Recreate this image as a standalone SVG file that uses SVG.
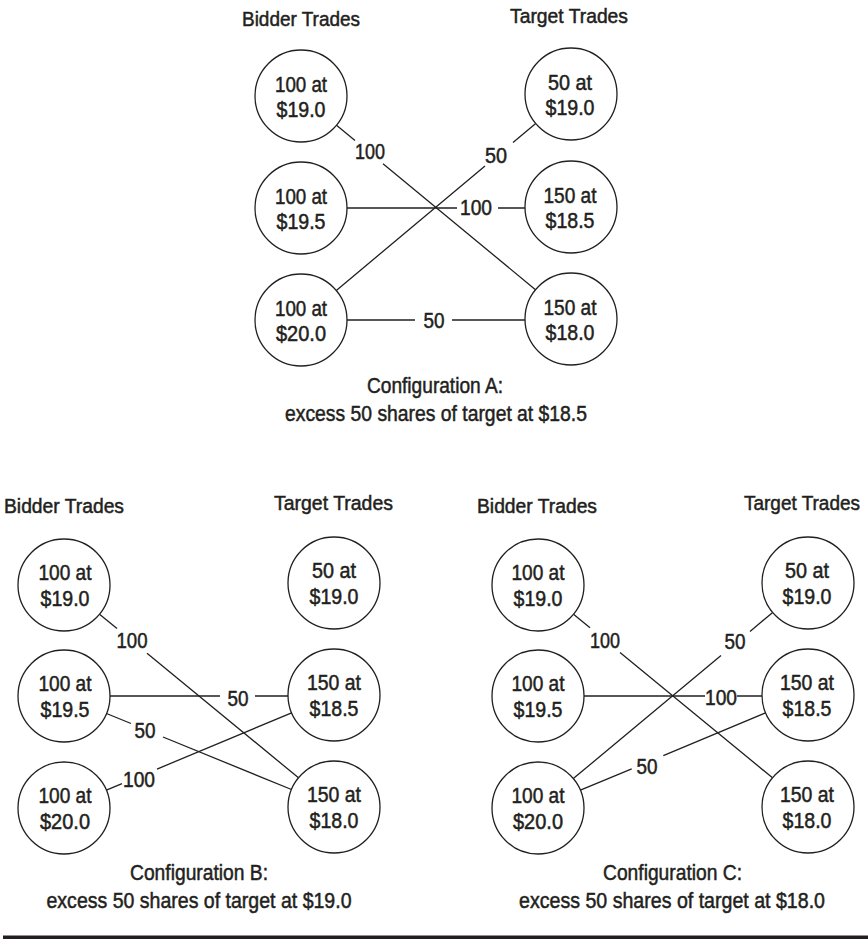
<svg xmlns="http://www.w3.org/2000/svg" width="868" height="939" viewBox="0 0 868 939">
<style>
text{font-family:"Liberation Sans",Arial,sans-serif;fill:#231f20;stroke:#231f20;stroke-width:0.5;text-anchor:middle;font-size:21.5px}
.hd{font-size:20.5px}
.cap{font-size:22px}
.node circle{fill:#fff;stroke:#231f20;stroke-width:1.3}
.edge{fill:none;stroke:#231f20;stroke-width:1.3}
</style>
<rect x="0" y="0" width="868" height="939" fill="#fff"/>

<!-- Headers and captions -->
<g id="titles">
<text class="hd" x="301" y="26" textLength="118" lengthAdjust="spacingAndGlyphs">Bidder Trades</text>
<text class="hd" x="569" y="23" textLength="118" lengthAdjust="spacingAndGlyphs">Target Trades</text>
<text class="cap" x="435" y="393" textLength="136" lengthAdjust="spacingAndGlyphs">Configuration A:</text>
<text class="cap" x="436" y="421" textLength="302" lengthAdjust="spacingAndGlyphs">excess 50 shares of target at $18.5</text>

<text class="hd" x="64" y="513" textLength="120" lengthAdjust="spacingAndGlyphs">Bidder Trades</text>
<text class="hd" x="333.5" y="510" textLength="119" lengthAdjust="spacingAndGlyphs">Target Trades</text>
<text class="cap" x="199" y="880" textLength="138" lengthAdjust="spacingAndGlyphs">Configuration B:</text>
<text class="cap" x="199" y="908" textLength="305" lengthAdjust="spacingAndGlyphs">excess 50 shares of target at $19.0</text>

<text class="hd" x="537" y="513" textLength="120" lengthAdjust="spacingAndGlyphs">Bidder Trades</text>
<text class="hd" x="802" y="510" textLength="116" lengthAdjust="spacingAndGlyphs">Target Trades</text>
<text class="cap" x="672.5" y="880" textLength="139" lengthAdjust="spacingAndGlyphs">Configuration C:</text>
<text class="cap" x="672" y="908" textLength="306" lengthAdjust="spacingAndGlyphs">excess 50 shares of target at $18.0</text>
</g>

<!-- Connectors -->
<g id="connectors">
<!-- Configuration A -->
<path class="edge" d="M336.5,125.3 L355,140.6 M383,163.7 L535.5,289.7"/>
<path class="edge" d="M347,208 H457 M498,208 H525"/>
<path class="edge" d="M336.3,290.5 L485,166 M513,142.6 L535.7,123.5"/>
<path class="edge" d="M347,320 H415 M452,320 H525"/>
<text x="370" y="159" textLength="30" lengthAdjust="spacingAndGlyphs">100</text>
<text x="476" y="215" textLength="32" lengthAdjust="spacingAndGlyphs">100</text>
<text x="496" y="163" textLength="22" lengthAdjust="spacingAndGlyphs">50</text>
<text x="434" y="328" textLength="21" lengthAdjust="spacingAndGlyphs">50</text>

<!-- Configuration B -->
<path class="edge" d="M99.5,614.2 L117,628.6 M147,653.2 L298.5,777.8"/>
<path class="edge" d="M110,696 H220 M255,696 H288"/>
<path class="edge" d="M106.5,713.5 L131,723.5 M163,737 L291.5,789.5"/>
<path class="edge" d="M106.4,790.2 L122,783.7 M157,769.1 L291.6,712.8"/>
<text x="132" y="648" textLength="31" lengthAdjust="spacingAndGlyphs">100</text>
<text x="238" y="706" textLength="21" lengthAdjust="spacingAndGlyphs">50</text>
<text x="145" y="738" textLength="21" lengthAdjust="spacingAndGlyphs">50</text>
<text x="139" y="787" textLength="32" lengthAdjust="spacingAndGlyphs">100</text>

<!-- Configuration C -->
<path class="edge" d="M573.5,614.2 L590,627.7 M620,652.4 L772.5,777.8"/>
<path class="edge" d="M584,696 H705 M737,696 H762"/>
<path class="edge" d="M573.3,778.6 L721,655.6 M750,631.4 L772.7,612.4"/>
<path class="edge" d="M580.4,790.2 L631.7,768.8 M663.3,755.6 L765.6,712.8"/>
<text x="605" y="648" textLength="30" lengthAdjust="spacingAndGlyphs">100</text>
<text x="721" y="705" textLength="32" lengthAdjust="spacingAndGlyphs">100</text>
<text x="735" y="649" textLength="21" lengthAdjust="spacingAndGlyphs">50</text>
<text x="647" y="774" textLength="21" lengthAdjust="spacingAndGlyphs">50</text>
</g>

<!-- Configuration A nodes -->
<g id="A-bid-1" class="node"><circle cx="301" cy="96" r="46"/><text x="301" y="92" textLength="52" lengthAdjust="spacingAndGlyphs">100 at</text><text x="301" y="117" textLength="49" lengthAdjust="spacingAndGlyphs">$19.0</text></g>
<g id="A-bid-2" class="node"><circle cx="301" cy="208" r="46"/><text x="301" y="204" textLength="52" lengthAdjust="spacingAndGlyphs">100 at</text><text x="301" y="229" textLength="49" lengthAdjust="spacingAndGlyphs">$19.5</text></g>
<g id="A-bid-3" class="node"><circle cx="301" cy="320" r="46"/><text x="301" y="316" textLength="52" lengthAdjust="spacingAndGlyphs">100 at</text><text x="301" y="341" textLength="50" lengthAdjust="spacingAndGlyphs">$20.0</text></g>
<g id="A-tgt-1" class="node"><circle cx="571" cy="94" r="46"/><text x="570" y="90" textLength="44" lengthAdjust="spacingAndGlyphs">50 at</text><text x="570" y="115" textLength="49" lengthAdjust="spacingAndGlyphs">$19.0</text></g>
<g id="A-tgt-2" class="node"><circle cx="571" cy="207" r="46"/><text x="570" y="203" textLength="53" lengthAdjust="spacingAndGlyphs">150 at</text><text x="570" y="228" textLength="49" lengthAdjust="spacingAndGlyphs">$18.5</text></g>
<g id="A-tgt-3" class="node"><circle cx="571" cy="319" r="46"/><text x="570" y="315" textLength="53" lengthAdjust="spacingAndGlyphs">150 at</text><text x="570" y="340" textLength="49" lengthAdjust="spacingAndGlyphs">$18.0</text></g>

<!-- Configuration B nodes -->
<g id="B-bid-1" class="node"><circle cx="64" cy="585" r="46"/><text x="65" y="580" textLength="53" lengthAdjust="spacingAndGlyphs">100 at</text><text x="65" y="606" textLength="49" lengthAdjust="spacingAndGlyphs">$19.0</text></g>
<g id="B-bid-2" class="node"><circle cx="64" cy="696" r="46"/><text x="65" y="691" textLength="53" lengthAdjust="spacingAndGlyphs">100 at</text><text x="65" y="717" textLength="49" lengthAdjust="spacingAndGlyphs">$19.5</text></g>
<g id="B-bid-3" class="node"><circle cx="64" cy="808" r="46"/><text x="65" y="803" textLength="53" lengthAdjust="spacingAndGlyphs">100 at</text><text x="65" y="829" textLength="50" lengthAdjust="spacingAndGlyphs">$20.0</text></g>
<g id="B-tgt-1" class="node"><circle cx="334" cy="583" r="46"/><text x="334" y="578" textLength="44" lengthAdjust="spacingAndGlyphs">50 at</text><text x="334" y="604" textLength="49" lengthAdjust="spacingAndGlyphs">$19.0</text></g>
<g id="B-tgt-2" class="node"><circle cx="334" cy="695" r="46"/><text x="334" y="690" textLength="54" lengthAdjust="spacingAndGlyphs">150 at</text><text x="334" y="716" textLength="49" lengthAdjust="spacingAndGlyphs">$18.5</text></g>
<g id="B-tgt-3" class="node"><circle cx="334" cy="807" r="46"/><text x="334" y="802" textLength="54" lengthAdjust="spacingAndGlyphs">150 at</text><text x="334" y="828" textLength="49" lengthAdjust="spacingAndGlyphs">$18.0</text></g>

<!-- Configuration C nodes -->
<g id="C-bid-1" class="node"><circle cx="538" cy="585" r="46"/><text x="538" y="580" textLength="53" lengthAdjust="spacingAndGlyphs">100 at</text><text x="538" y="606" textLength="49" lengthAdjust="spacingAndGlyphs">$19.0</text></g>
<g id="C-bid-2" class="node"><circle cx="538" cy="696" r="46"/><text x="538" y="691" textLength="53" lengthAdjust="spacingAndGlyphs">100 at</text><text x="538" y="717" textLength="49" lengthAdjust="spacingAndGlyphs">$19.5</text></g>
<g id="C-bid-3" class="node"><circle cx="538" cy="808" r="46"/><text x="538" y="803" textLength="53" lengthAdjust="spacingAndGlyphs">100 at</text><text x="538" y="829" textLength="50" lengthAdjust="spacingAndGlyphs">$20.0</text></g>
<g id="C-tgt-1" class="node"><circle cx="808" cy="583" r="46"/><text x="807" y="578" textLength="44" lengthAdjust="spacingAndGlyphs">50 at</text><text x="807" y="604" textLength="49" lengthAdjust="spacingAndGlyphs">$19.0</text></g>
<g id="C-tgt-2" class="node"><circle cx="808" cy="695" r="46"/><text x="807" y="690" textLength="54" lengthAdjust="spacingAndGlyphs">150 at</text><text x="807" y="716" textLength="49" lengthAdjust="spacingAndGlyphs">$18.5</text></g>
<g id="C-tgt-3" class="node"><circle cx="808" cy="807" r="46"/><text x="807" y="802" textLength="54" lengthAdjust="spacingAndGlyphs">150 at</text><text x="807" y="828" textLength="49" lengthAdjust="spacingAndGlyphs">$18.0</text></g>

<!-- Bottom rule -->
<rect x="3" y="935.5" width="865" height="3.5" fill="#231f20"/>
</svg>
